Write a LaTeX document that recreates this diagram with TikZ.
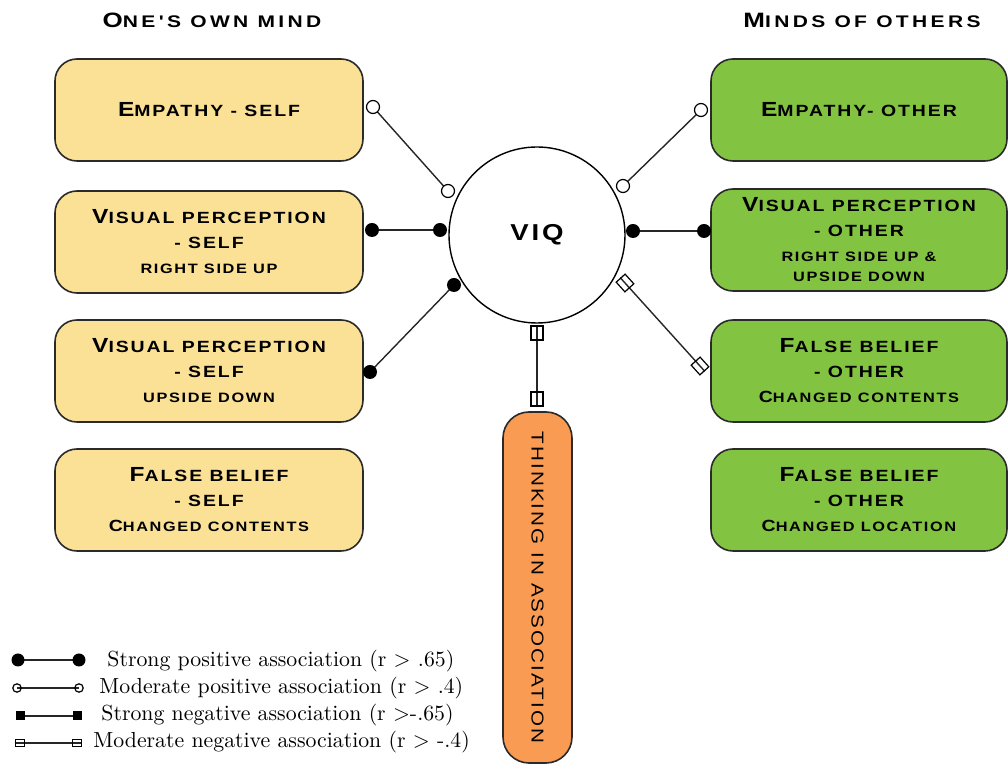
\documentclass[tikz,border=0pt]{standalone}
\usepackage{fontspec}
\newfontfamily\capsfont[FakeStretch=1.2,LetterSpace=12]{Liberation Sans}
\newfontfamily\headfont[FakeStretch=1.25,LetterSpace=20]{Liberation Sans}
\usetikzlibrary{backgrounds}
\definecolor{selfyellow}{HTML}{FAE196}
\definecolor{othergreen}{HTML}{82C341}
\definecolor{assocorange}{HTML}{F99B52}
\definecolor{edgegray}{HTML}{2A2A2A}
% pseudo small caps: large initials, small trailing lines
\newcommand\Bg[1]{{\fontsize{10.2pt}{12.5pt}\selectfont #1}}
\newcommand\Sm[1]{{\fontsize{6.8pt}{12.5pt}\selectfont #1}}
\newcommand\Tb[1]{{\fontsize{10.4pt}{12pt}\selectfont #1}}
\begin{document}
\begin{tikzpicture}[x=0.5pt,y=-0.5pt,
  box/.style={draw=edgegray, line width=0.8pt, rounded corners=11pt,
    minimum height=51pt, align=center, inner sep=0pt,
    font=\capsfont\bfseries\fontsize{8.1pt}{12.5pt}\selectfont},
  selfbox/.style={box, fill=selfyellow, minimum width=154pt},
  otherbox/.style={box, fill=othergreen, minimum width=148pt},
  hub/.style={circle, draw=black, line width=0.7pt, fill=white, minimum size=88pt,
    inner sep=0pt, font=\capsfont\bfseries\fontsize{11.5pt}{12pt}\selectfont},
  assoc/.style={draw=edgegray, line width=0.8pt, fill=assocorange, rounded corners=13pt,
    minimum width=175.5pt, minimum height=34.5pt, inner sep=0pt, rotate=-90,
    font=\capsfont\fontsize{8.6pt}{10pt}\selectfont},
  heading/.style={inner sep=0pt, font=\headfont\bfseries\fontsize{8.4pt}{12pt}\selectfont},
  conn/.style={line width=0.7pt, draw=black!85},
  fdot/.style={circle, fill=black, inner sep=0pt, minimum size=7pt},
  odot/.style={circle, draw=black, fill=white, line width=0.6pt, inner sep=0pt, minimum size=6.5pt},
  vsq/.style={rectangle, draw=black, line width=0.6pt, inner sep=0pt, minimum width=6pt, minimum height=7pt},
  dsq/.style={rectangle, draw=black, line width=0.6pt, inner sep=0pt, minimum width=6.5pt, minimum height=6pt, rotate=-48},
  lfdot/.style={circle, fill=black, inner sep=0pt, minimum size=6.5pt},
  lodot/.style={circle, draw=black, line width=0.6pt, inner sep=0pt, minimum size=4.2pt},
  lfsq/.style={rectangle, fill=black, inner sep=0pt, minimum size=4.5pt},
  losq/.style={rectangle, draw=black, line width=0.6pt, inner sep=0pt, minimum width=4.5pt, minimum height=3.8pt},
  legtext/.style={anchor=west, inner sep=0pt, font=\fontsize{10.9pt}{12pt}\selectfont}
]
\useasboundingbox (0,0) rectangle (1008,769);

% column headings
\node[heading] (hself) at (212,20) {\Tb{O}NE'S OWN MIND};
\node[heading] (hother) at (862,20) {\Tb{M}INDS OF OTHERS};

% one's own mind
\node[selfbox] (es)  at (209,110) {\Bg{E}MPATHY - SELF};
\node[selfbox] (vsu) at (209,242) {\Bg{V}ISUAL PERCEPTION\\- SELF\\\Sm{RIGHT SIDE UP}};
\node[selfbox] (vsd) at (209,371) {\Bg{V}ISUAL PERCEPTION\\- SELF\\\Sm{UPSIDE DOWN}};
\node[selfbox] (fbs) at (209,500) {\Bg{F}ALSE BELIEF\\- SELF\\C\Sm{HANGED CONTENTS}};

% minds of others
\node[otherbox] (eo)   at (859,110) {\Bg{E}MPATHY- OTHER};
\node[otherbox] (vo)   at (859,240) {\Bg{V}ISUAL PERCEPTION\\- OTHER\\\Sm{RIGHT SIDE UP \&}\\[-2.5pt]\Sm{UPSIDE DOWN}};
\node[otherbox] (fbo1) at (859,371) {\Bg{F}ALSE BELIEF\\- OTHER\\C\Sm{HANGED CONTENTS}};
\node[otherbox] (fbo2) at (859,500) {\Bg{F}ALSE BELIEF\\- OTHER\\C\Sm{HANGED LOCATION}};

% hub and thinking box
\node[hub] (viq) at (537,235) {VIQ};
\node[assoc] (ta) at (537.5,587.5) {THINKING IN ASSOCIATION};

% association end markers
\node[odot] (es1)  at (373,107) {};
\node[odot] (es2)  at (448,191) {};
\node[fdot] (vsu1) at (372,230) {};
\node[fdot] (vsu2) at (440,230) {};
\node[fdot] (vsd1) at (370,372) {};
\node[fdot] (vsd2) at (454,285) {};
\node[vsq]  (ta1)  at (537,333) {};
\node[vsq]  (ta2)  at (537,399) {};
\node[odot] (eo1)  at (623,186) {};
\node[odot] (eo2)  at (701,110) {};
\node[fdot] (vo1)  at (633,231) {};
\node[fdot] (vo2)  at (704,231) {};
\node[dsq]  (fb1)  at (625,283) {};
\node[dsq]  (fb2)  at (700,366) {};

% legend
\node[lfdot] (l1a) at (18,660) {};
\node[lfdot] (l1b) at (79,660) {};
\node[lodot] (l2a) at (17,688) {};
\node[lodot] (l2b) at (79,688) {};
\node[lfsq]  (l3a) at (20,716) {};
\node[lfsq]  (l3b) at (77,716) {};
\node[losq]  (l4a) at (20,743) {};
\node[losq]  (l4b) at (77,743) {};
\node[legtext] (t1) at (107,661) {Strong positive association (r > .65)};
\node[legtext] (t2) at (99,688) {Moderate positive association (r > .4)};
\node[legtext] (t3) at (101,715) {Strong negative association (r >-.65)};
\node[legtext] (t4) at (93,742) {Moderate negative association (r > -.4)};

\begin{scope}[on background layer]
  \draw[conn] (es1.center) -- (es2.center);
  \draw[conn] (vsu1.center) -- (vsu2.center);
  \draw[conn] (vsd1.center) -- (vsd2.center);
  \draw[conn] (ta1.north) -- (ta2.south);
  \draw[conn] (eo1.center) -- (eo2.center);
  \draw[conn] (vo1.center) -- (vo2.center);
  \draw[conn] (fb1.west) -- (fb2.east);
  \draw[conn] (l1a.center) -- (l1b.center);
  \draw[conn] (l2a.center) -- (l2b.center);
  \draw[conn] (l3a.center) -- (l3b.center);
  \draw[conn] (l4a.west) -- (l4b.east);
\end{scope}
\end{tikzpicture}
\end{document}
